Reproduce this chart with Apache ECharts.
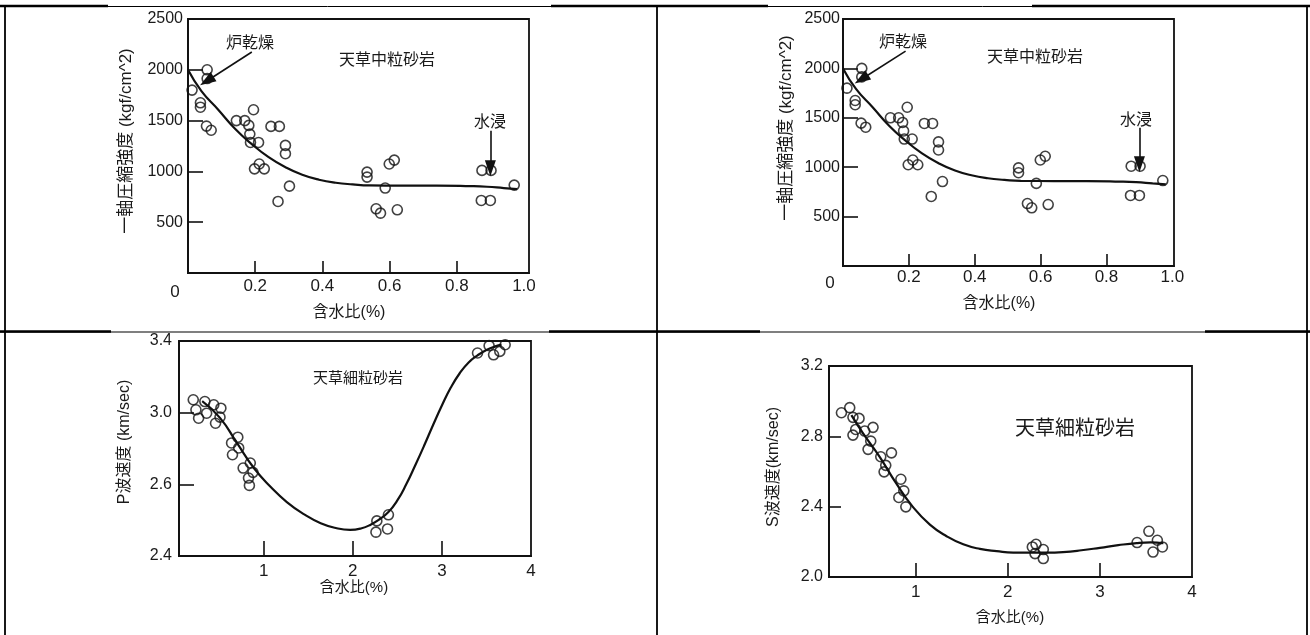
<!DOCTYPE html>
<html><head><meta charset="utf-8">
<script src="https://cdn.jsdelivr.net/npm/echarts@6/dist/echarts.min.js"></script>
<style>html,body{margin:0;padding:0;background:#fff;}#c{width:1310px;height:635px;}</style>
</head><body><div id="c"></div>
<script>
// ---- Panel 1 & 2 : 天草中粒砂岩, 一軸圧縮強度 vs 含水比 (same data) ----
const ucsWater = [0.012, 0.037, 0.037, 0.057, 0.057, 0.055, 0.069, 0.144, 0.169, 0.181, 0.184, 0.195, 0.186, 0.21, 0.198, 0.212, 0.227, 0.247, 0.272, 0.29, 0.29, 0.268, 0.302, 0.533, 0.533, 0.587, 0.56, 0.573, 0.623, 0.599, 0.614, 0.875, 0.902, 0.873, 0.9, 0.971];
const ucsValue = [1800, 1675, 1632, 2000, 1914, 1446, 1405, 1500, 1500, 1453, 1367, 1607, 1285, 1285, 1025, 1073, 1025, 1443, 1443, 1256, 1174, 704, 855, 993, 944, 836, 632, 589, 622, 1073, 1111, 1010, 1010, 714, 714, 865];
const ucsCurveX = [0, 0.04, 0.09, 0.14, 0.19, 0.24, 0.29, 0.34, 0.39, 0.44, 0.49, 0.54, 0.64, 0.74, 0.84, 0.89, 0.94, 0.98];
const ucsCurveY = [2000, 1790, 1607, 1420, 1268, 1140, 1041, 967, 918, 888, 872, 862, 860, 860, 855, 849, 836, 826];
const ucsXTicks = [0.2, 0.4, 0.6, 0.8];
const ucsXLabels = [0, 0.2, 0.4, 0.6, 0.8, 1.0];
const ucsYTicks = [500, 1000, 1500, 2000];
const ucsYLabels = [500, 1000, 1500, 2000, 2500];
// arrows: [start, tip] in data units
const arrowDry = [[0.19, 2175], [0.056, 1890]];
const arrowWet = [[0.9, 1400], [0.9, 1030]];

// ---- Panel 3 : P波速度 ----
const pWater = [0.21, 0.34, 0.44, 0.52, 0.24, 0.36, 0.51, 0.27, 0.46, 0.64, 0.71, 0.72, 0.65, 0.77, 0.85, 0.88, 0.83, 0.84, 2.27, 2.40, 2.26, 2.39, 3.40, 3.53, 3.58, 3.65, 3.71];
const pVel = [3.072, 3.062, 3.044, 3.025, 3.016, 2.997, 2.975, 2.969, 2.941, 2.831, 2.863, 2.803, 2.765, 2.691, 2.719, 2.667, 2.635, 2.594, 2.396, 2.430, 2.333, 2.351, 3.333, 3.374, 3.323, 3.342, 3.379];
const pCurveX = [0.31, 0.51, 0.70, 0.89, 1.08, 1.26, 1.45, 1.64, 1.82, 1.97, 2.1, 2.2, 2.3, 2.4, 2.5, 2.6, 2.7, 2.8, 2.9, 3.0, 3.1, 3.2, 3.3, 3.4, 3.5, 3.6, 3.67];
const pCurveY = [3.064, 2.971, 2.831, 2.691, 2.585, 2.501, 2.434, 2.383, 2.355, 2.346, 2.355, 2.375, 2.405, 2.445, 2.51, 2.6, 2.705, 2.815, 2.93, 3.04, 3.14, 3.22, 3.28, 3.32, 3.35, 3.37, 3.38];
const pYTicks = [2.6, 3.0];
const pYLabelVals = [2.2, 2.6, 3.0, 3.4];
const pYLabelText = ['2.4', '2.6', '3.0', '3.4'];

// ---- Panel 4 : S波速度 ----
const sWater = [0.195, 0.285, 0.32, 0.386, 0.35, 0.32, 0.448, 0.538, 0.513, 0.484, 0.622, 0.738, 0.676, 0.658, 0.84, 0.872, 0.818, 0.894, 2.267, 2.307, 2.296, 2.386, 2.386, 3.404, 3.532, 3.624, 3.577, 3.679];
const sVel = [2.934, 2.963, 2.908, 2.902, 2.839, 2.807, 2.83, 2.851, 2.773, 2.726, 2.684, 2.706, 2.635, 2.598, 2.556, 2.49, 2.452, 2.399, 2.171, 2.186, 2.133, 2.156, 2.105, 2.196, 2.26, 2.209, 2.142, 2.171];
const sCurveX = [0.303, 0.43, 0.61, 0.79, 0.97, 1.155, 1.336, 1.517, 1.698, 1.88, 2.06, 2.24, 2.42, 2.6, 2.8, 3.0, 3.2, 3.4, 3.55, 3.69];
const sCurveY = [2.921, 2.817, 2.683, 2.532, 2.399, 2.298, 2.232, 2.186, 2.16, 2.147, 2.139, 2.139, 2.139, 2.142, 2.152, 2.166, 2.181, 2.193, 2.197, 2.192];
const vXTicks = [1, 2, 3];
const vXLabels = [1, 2, 3, 4];
const sYTicks = [2.4, 2.8];
const sYLabels = [2.0, 2.4, 2.8, 3.2];

const FONT = '"Liberation Sans", "Noto Sans CJK JP", Arial, sans-serif';
const INK = '#111';
const TXT = '#1a1a1a';

const zip = (a, b) => a.map((v, i) => [v, b[i]]);

function grid(l, t, w, h) {
  return { left: l, top: t, width: w, height: h, show: true, borderColor: INK, borderWidth: 1.8, backgroundColor: 'transparent' };
}
function xAxis(gi, min, max, ticks, labels, fmt, tickLen, margin) {
  return {
    type: 'value', gridIndex: gi, min: min, max: max,
    axisLine: { show: true, onZero: false, lineStyle: { color: INK, width: 1.8 } },
    splitLine: { show: false },
    axisTick: { show: true, inside: true, length: tickLen, customValues: ticks, lineStyle: { color: INK, width: 1.6 } },
    axisLabel: { customValues: labels, formatter: fmt, color: TXT, fontSize: 17, fontFamily: FONT, margin: margin, showMinLabel: true, showMaxLabel: true,
      rich: { o: { fontSize: 17, fontFamily: FONT, color: TXT, padding: [6, 26, 0, 0] } } }
  };
}
function yAxis(gi, min, max, ticks, labels, fmt, tickLen, margin) {
  return {
    type: 'value', gridIndex: gi, min: min, max: max,
    axisLine: { show: true, onZero: false, lineStyle: { color: INK, width: 1.8 } },
    splitLine: { show: false },
    axisTick: { show: true, inside: true, length: tickLen, customValues: ticks, lineStyle: { color: INK, width: 1.6 } },
    axisLabel: { customValues: labels, formatter: fmt, color: TXT, fontSize: 16, fontFamily: FONT, margin: margin, showMinLabel: true, showMaxLabel: true }
  };
}
function scatter(ai, data) {
  return { type: 'scatter', xAxisIndex: ai, yAxisIndex: ai, data: data, symbol: 'circle', symbolSize: 10,
    itemStyle: { color: 'rgba(0,0,0,0)', borderColor: INK, borderWidth: 1.6 }, silent: true, z: 3 };
}
function curve(ai, data, arrows) {
  const s = { type: 'line', xAxisIndex: ai, yAxisIndex: ai, data: data, smooth: 0.5, showSymbol: false,
    lineStyle: { color: INK, width: 2.2 }, silent: true, z: 2 };
  if (arrows) {
    s.markLine = { silent: true, symbol: ['none', 'triangle'], symbolSize: [11, 16], label: { show: false },
      lineStyle: { color: INK, width: 1.6, type: 'solid' }, itemStyle: { color: INK },
      emphasis: { disabled: true },
      data: arrows.map(a => [{ coord: a[0] }, { coord: a[1] }]) };
  }
  return s;
}
const f1 = v => v === 0 ? '{o|0}' : v.toFixed(1);
const fInt = v => String(v);
const fOne = v => v.toFixed(1);
const fP = v => { const i = pYLabelVals.findIndex(x => Math.abs(x - v) < 1e-6); return i >= 0 ? pYLabelText[i] : ''; };

function txt(t, x, y, size, rot) {
  return { type: 'text', x: x, y: y, rotation: rot || 0, silent: true, z: 10,
    style: { text: t, fontSize: size, fontFamily: FONT, fill: TXT, textAlign: 'center', textVerticalAlign: 'middle' } };
}
function ln(x1, y1, x2, y2, w) {
  return { type: 'line', silent: true, z: 0, shape: { x1: x1, y1: y1, x2: x2, y2: y2 }, style: { stroke: '#000', lineWidth: w } };
}

const option = {
  animation: false,
  backgroundColor: '#fff',
  grid: [grid(188, 19, 341, 254), grid(843, 19, 331, 247), grid(179, 341, 352, 215), grid(829, 366, 363, 211)],
  xAxis: [
    xAxis(0, 0, 1.015, ucsXTicks, ucsXLabels, f1, 12, 5),
    xAxis(1, 0, 1.005, ucsXTicks, ucsXLabels, f1, 12, 3),
    xAxis(2, 0.05, 4, vXTicks, vXLabels, fInt, 15, 7),
    xAxis(3, 0.06, 4, vXTicks, vXLabels, fInt, 14, 7)
  ],
  yAxis: [
    yAxis(0, 0, 2500, ucsYTicks, ucsYLabels, fInt, 15, 5),
    yAxis(1, 0, 2500, ucsYTicks, ucsYLabels, fInt, 15, 3),
    yAxis(2, 2.2, 3.4, pYTicks, pYLabelVals, fP, 15, 7),
    yAxis(3, 2.0, 3.2, sYTicks, sYLabels, fOne, 12, 6)
  ],
  series: [
    curve(0, zip(ucsCurveX, ucsCurveY), [arrowDry, arrowWet]),
    scatter(0, zip(ucsWater, ucsValue)),
    curve(1, zip(ucsCurveX, ucsCurveY), [arrowDry, arrowWet]),
    scatter(1, zip(ucsWater, ucsValue)),
    curve(2, zip(pCurveX, pCurveY)),
    scatter(2, zip(pWater, pVel)),
    curve(3, zip(sCurveX, sCurveY)),
    scatter(3, zip(sWater, sVel))
  ],
  graphic: [
    // table frame
    ln(0, 6.5, 1310, 6.5, 1),
    ln(0, 6, 108, 6, 2.5), ln(551, 6, 660, 6, 2.5), ln(660, 6, 768, 6, 2.5), ln(1032, 6, 1310, 6, 2.5),
    ln(0, 332, 1310, 332, 1.2),
    ln(0, 331.5, 111, 331.5, 2.5), ln(549, 331.5, 760, 331.5, 2.5), ln(1205, 331.5, 1310, 331.5, 2.5),
    ln(5, 6, 5, 635, 1.8), ln(657, 6, 657, 635, 1.8), ln(1307, 6, 1307, 635, 1.8),
    // panel 1 texts
    txt('炉乾燥', 250, 44, 16), txt('天草中粒砂岩', 387, 61, 16), txt('水浸', 490, 123, 16),
    txt('一軸圧縮強度 (kgf/cm^2)', 126, 141, 17, Math.PI / 2), txt('含水比(%)', 349, 313, 16),
    // panel 2 texts
    txt('炉乾燥', 903, 43, 16), txt('天草中粒砂岩', 1035, 58, 16), txt('水浸', 1136, 121, 16),
    txt('一軸圧縮強度 (kgf/cm^2)', 786, 128, 17, Math.PI / 2), txt('含水比(%)', 999, 304, 16),
    // panel 3 texts
    txt('天草細粒砂岩', 358, 379, 15), txt('P波速度 (km/sec)', 125, 442, 16, Math.PI / 2), txt('含水比(%)', 354, 588, 15),
    // panel 4 texts
    txt('天草細粒砂岩', 1075, 429, 20), txt('S波速度(km/sec)', 774, 467, 16, Math.PI / 2), txt('含水比(%)', 1010, 618, 15)
  ]
};
const chart = echarts.init(document.getElementById('c'), null, { renderer: 'canvas' });
chart.setOption(option);
</script></body></html>
